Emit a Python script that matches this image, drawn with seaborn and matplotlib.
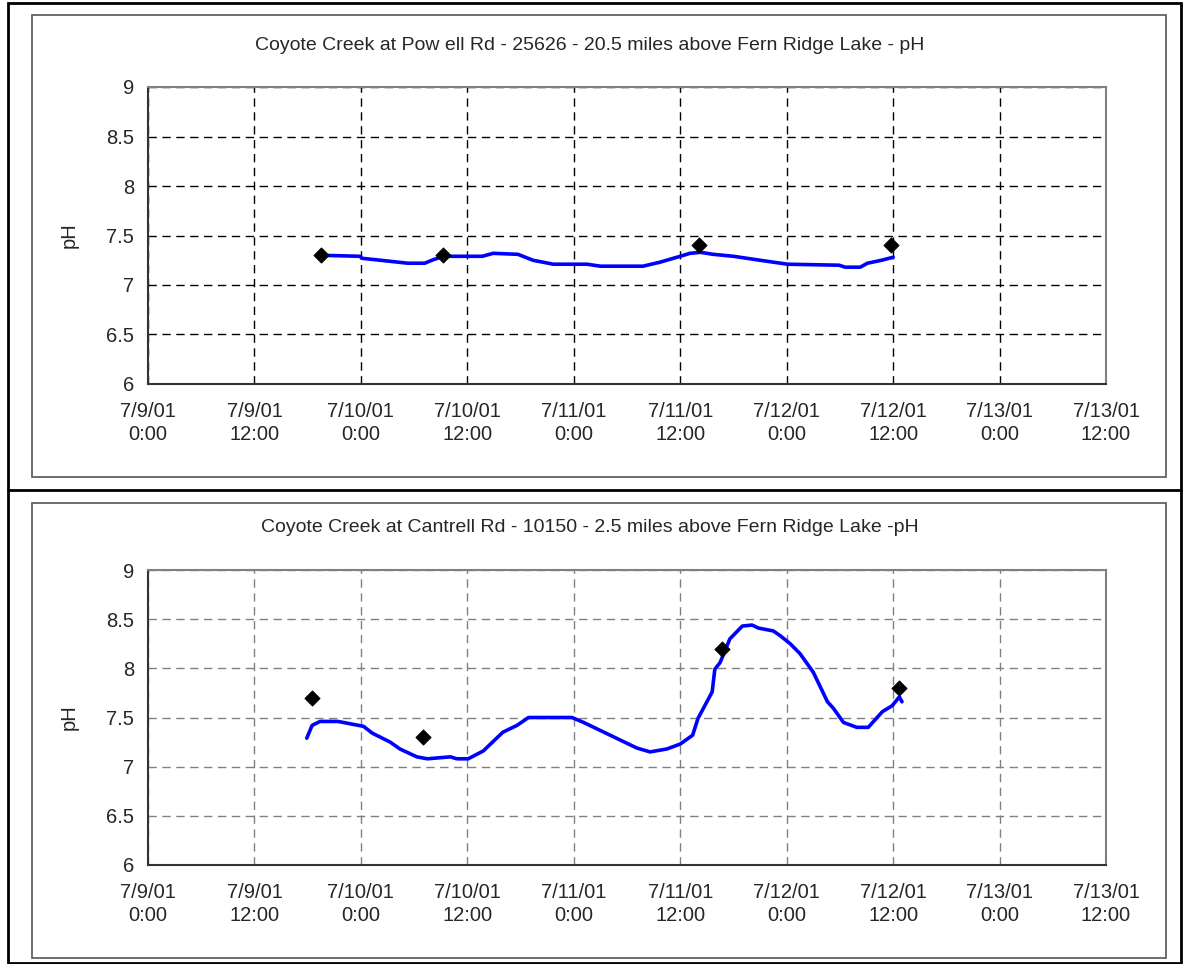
"""Coyote Creek pH: continuous record vs grab samples at two stations."""

import matplotlib.pyplot as plt
import pandas as pd
import seaborn as sns
from matplotlib.lines import Line2D
from matplotlib.patches import Rectangle

sns.set_style("white")
plt.rcParams["font.family"] = ["Liberation Sans", "DejaVu Sans"]

# hours after 7/9/01 0:00
tick_hours = [0, 12, 24, 36, 48, 60, 72, 84, 96, 108]
tick_labels = [
    "7/9/01\n0:00", "7/9/01\n12:00", "7/10/01\n0:00", "7/10/01\n12:00",
    "7/11/01\n0:00", "7/11/01\n12:00", "7/12/01\n0:00", "7/12/01\n12:00",
    "7/13/01\n0:00", "7/13/01\n12:00",
]

powell_hours = [19.6, 23.9, 24.1, 26.2, 29.3, 31.2, 32.0, 33.3, 37.7, 38.9,
                41.7, 43.4, 45.7, 49.5, 51.0, 55.8, 57.7, 60.0, 61.1, 62.3,
                63.7, 66.0, 69.0, 72.1, 77.9, 78.6, 80.3, 81.1, 82.7, 84.0]
powell_ph = [7.30, 7.29, 7.27, 7.25, 7.22, 7.22, 7.25, 7.29, 7.29, 7.32,
             7.31, 7.25, 7.21, 7.21, 7.19, 7.19, 7.23, 7.29, 7.32, 7.33,
             7.31, 7.29, 7.25, 7.21, 7.20, 7.18, 7.18, 7.22, 7.25, 7.28]
powell_grab_hours = [19.5, 33.3, 62.1, 83.8]
powell_grab_ph = [7.3, 7.3, 7.4, 7.4]

cantrell_hours = [17.9, 18.5, 19.4, 21.4, 22.0, 24.3, 25.3, 27.3, 28.4, 30.3,
                  31.5, 34.1, 34.8, 36.1, 37.8, 40.0, 41.6, 42.9, 47.8, 49.1,
                  52.1, 55.1, 56.6, 58.5, 60.0, 61.4, 62.0, 63.6, 63.9, 64.5,
                  65.6, 67.0, 68.1, 68.8, 70.5, 71.3, 72.4, 73.5, 75.0, 76.6,
                  77.3, 78.4, 79.9, 81.2, 82.8, 83.9, 84.7, 85.0]
cantrell_ph = [7.29, 7.42, 7.46, 7.46, 7.45, 7.41, 7.34, 7.25, 7.18, 7.10,
               7.08, 7.10, 7.08, 7.08, 7.16, 7.35, 7.42, 7.50, 7.50, 7.45,
               7.32, 7.19, 7.15, 7.18, 7.23, 7.32, 7.49, 7.76, 7.99, 8.06,
               8.30, 8.43, 8.44, 8.41, 8.38, 8.33, 8.25, 8.15, 7.96, 7.66,
               7.59, 7.45, 7.40, 7.40, 7.56, 7.62, 7.71, 7.66]
cantrell_grab_hours = [18.5, 31.0, 64.7, 84.7]
cantrell_grab_ph = [7.7, 7.3, 8.2, 7.8]

titles = [
    "Coyote Creek at Pow ell Rd - 25626 - 20.5 miles above Fern Ridge Lake - pH",
    "Coyote Creek at Cantrell Rd - 10150 - 2.5 miles above Fern Ridge Lake -pH",
]

W, H = 1183, 964
fig = plt.figure(figsize=(W / 100, H / 100), dpi=100)


def fx(px):
    return px / W


def fy(py):
    return 1 - py / H


# outer table frame and chart boxes
for x0, y0, x1, y1, lw, col in [
    (8, 3, 1181, 963, 2.0, "black"),
    (32, 15, 1166, 477, 1.2, "#555555"),
    (32, 503, 1166, 958, 1.2, "#555555"),
]:
    fig.add_artist(Rectangle((fx(x0), fy(y1)), fx(x1) - fx(x0), fy(y0) - fy(y1),
                             transform=fig.transFigure, fill=False,
                             edgecolor=col, linewidth=lw))
fig.add_artist(Line2D([fx(8), fx(1181)], [fy(490), fy(490)],
                      transform=fig.transFigure, color="black", linewidth=2.0))

panels = [
    (87, 384, 45, powell_hours, powell_ph, powell_grab_hours, powell_grab_ph, "black"),
    (570, 865, 527, cantrell_hours, cantrell_ph, cantrell_grab_hours, cantrell_grab_ph, "#808080"),
]

for i, (top, bottom, title_y, hrs, ph, ghrs, gph, gridcol) in enumerate(panels):
    ax = fig.add_axes([fx(148), fy(bottom), fx(1106) - fx(148), fy(top) - fy(bottom)])
    line_df = pd.DataFrame({"hours": hrs, "pH": ph})
    grab_df = pd.DataFrame({"hours": ghrs, "pH": gph})
    sns.lineplot(data=line_df, x="hours", y="pH", ax=ax, color="#0000FF",
                 linewidth=2.6, sort=False, zorder=3)
    sns.scatterplot(data=grab_df, x="hours", y="pH", ax=ax, marker="D", s=60,
                    color="black", edgecolor="black", zorder=4)

    ax.set_xlim(0, 108)
    ax.set_ylim(6, 9)
    ax.set_xticks(tick_hours)
    ax.set_xticklabels(tick_labels, fontsize=14.5, linespacing=1.25)
    ax.set_yticks([6, 6.5, 7, 7.5, 8, 8.5, 9])
    ax.set_yticklabels(["6", "6.5", "7", "7.5", "8", "8.5", "9"], fontsize=14.5)
    ax.tick_params(axis="both", direction="out", length=5, width=1, color="#333333",
                   pad=5)
    ax.tick_params(axis="x", pad=8)
    ax.grid(True, color=gridcol, linestyle=(0, (6, 4)), linewidth=1)
    ax.set_xlabel("")
    ax.set_ylabel("pH", fontsize=14.5, labelpad=20)
    for side in ["top", "right"]:
        ax.spines[side].set_color("#808080")
        ax.spines[side].set_linewidth(1.5)
    for side in ["left", "bottom"]:
        ax.spines[side].set_color("#333333")
        ax.spines[side].set_linewidth(1.5)

    fig.text(fx(590), fy(title_y), titles[i], ha="center", va="center", fontsize=14)

fig.savefig("out.png", dpi=100)
